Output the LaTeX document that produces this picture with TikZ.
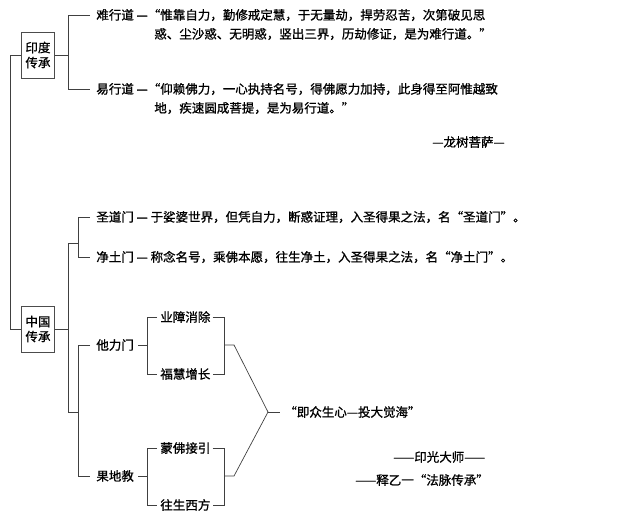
\documentclass[tikz,border=0pt]{standalone}
\usepackage{fontspec}
\setmainfont[FakeBold=1]{Noto Sans CJK SC}
\begin{document}
\begin{tikzpicture}[x=1pt,y=-1pt,line width=0.7pt,draw=black!75,
  t/.style={anchor=west,inner sep=0pt,font=\fontsize{12.5}{14}\selectfont},
  box/.style={draw=black!70,inner sep=2pt,align=left,font=\fontsize{12.5}{15}\selectfont,minimum width=33pt,minimum height=46pt}]
\useasboundingbox (0,0) rectangle (642,514);
\node[box] (yd) at (38,55) {印度\\传承};
\node[box] (zg) at (38,329) {中国\\传承};
\draw (yd.west) -- (10,55) -- (10,329) -- (zg.west);
% India branch
\draw (yd.east) -- (68,55);
\draw (90,15) -- (68,15) -- (68,89) -- (90,89);
\node[t] (nx) at (96,15) {难行道 —“惟靠自力，勤修戒定慧，于无量劫，捍劳忍苦，次第破见思};
\node[t] (nx2) at (154,34) {惑、尘沙惑、无明惑，竖出三界，历劫修证，是为难行道。”};
\node[t] (yx) at (96,89) {易行道 —“仰赖佛力，一心执持名号，得佛愿力加持，此身得至阿惟越致};
\node[t] (yx2) at (154,108) {地，疾速圆成菩提，是为易行道。”};
\node[t] (ls) at (432,142) {—龙树菩萨—};
% China branch
\draw (zg.east) -- (68,329);
\draw (78,243) -- (68,243) -- (68,412) -- (78,412);
\draw (90,217) -- (78,217) -- (78,257) -- (90,257);
\node[t] (sd) at (96,217) {圣道门 — 于娑婆世界，但凭自力，断惑证理，入圣得果之法，名“圣道门”。};
\node[t] (jt) at (96,257) {净土门 — 称念名号，乘佛本愿，往生净土，入圣得果之法，名“净土门”。};
\draw (90,345) -- (78,345) -- (78,476) -- (90,476);
\node[t] (tl) at (96,345) {他力门};
\node[t] (gd) at (96,476) {果地教};
\coordinate (j) at (268,412);
% 他力门 sub
\draw (tl.east) ++(4,0) -- (147,345);
\draw (157,317) -- (147,317) -- (147,374) -- (157,374);
\node[t] (yz) at (160,317) {业障消除};
\node[t] (fh) at (160,374) {福慧增长};
\draw (yz.east) ++(2,0) -- (224,317) -- (224,374) -- ([xshift=2pt]fh.east);
\draw (224,345) -- (234,345) -- (j);
% 果地教 sub
\draw (gd.east) ++(4,0) -- (147,476);
\draw (157,448) -- (147,448) -- (147,505) -- (157,505);
\node[t] (mf) at (160,448) {蒙佛接引};
\node[t] (ws) at (160,505) {往生西方};
\draw (mf.east) ++(2,0) -- (224,448) -- (224,505) -- ([xshift=2pt]ws.east);
\draw (224,476) -- (234,476) -- (j);
\draw (j) -- (280,412);
\node[t] (q) at (284,412) {“即众生心—投大觉海”};
\node[t] (yg) at (393,457) {——印光大师——};
\node[t] (sy) at (355,480) {——释乙一“法脉传承”};
\end{tikzpicture}
\end{document}
